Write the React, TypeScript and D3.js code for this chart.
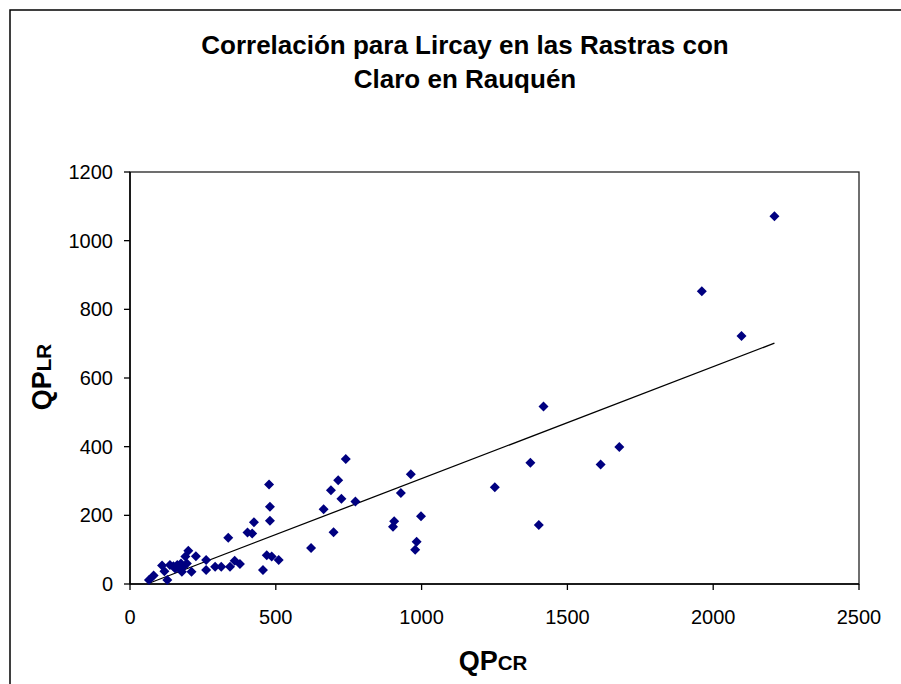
import React from "react";
import * as d3 from "d3";

const titleLines = ["Correlación para Lircay en las Rastras con", "Claro en Rauquén"];
const xTicks = [0, 500, 1000, 1500, 2000, 2500];
const yTicks = [0, 200, 400, 600, 800, 1000, 1200];

const qpCR = [
  65, 81, 110, 118, 128, 137, 149, 162, 175, 183, 178, 190, 200, 211, 226, 261, 261, 292, 313, 337,
  343, 359, 377, 403, 419, 425, 456, 469, 477, 480, 480, 486, 510, 621, 664, 689, 698, 714, 725, 740,
  773, 902, 906, 929, 963, 978, 983, 998, 1251, 1373, 1402, 1418, 1614, 1678, 1961, 2097, 2210,
  155, 170, 195,
];
const qpLR = [
  12, 25, 54, 37, 12, 55, 52, 55, 60, 50, 36, 80, 97, 36, 81, 70, 41, 50, 50, 135,
  50, 68, 58, 150, 147, 180, 41, 84, 290, 225, 184, 80, 70, 105, 218, 273, 151, 302, 248, 364,
  240, 167, 183, 265, 320, 100, 123, 197, 282, 353, 172, 517, 348, 399, 853, 722, 1071,
  45, 45, 60,
];
const trendSlope = 0.326;
const trendIntercept = -19;
const trendRange = [65, 2210];

const W = 901;
const H = 684;
const M = { left: 130, right: 859, top: 172, bottom: 584 };

export default function App() {
  const x = d3.scaleLinear().domain([0, 2500]).range([M.left, M.right]);
  const y = d3.scaleLinear().domain([0, 1200]).range([M.bottom, M.top]);
  const font = "'Liberation Sans', Arial, sans-serif";
  const pts = qpCR.map((v, i) => [v, qpLR[i]] as [number, number]);
  const line = d3
    .line<number>()
    .x((d) => x(d))
    .y((d) => y(trendSlope * d + trendIntercept));
  const r = 5;
  return (
    <svg
      width={W}
      height={H}
      style={{ position: "absolute", left: 0, top: 0, background: "#fff", display: "block" }}
      fontFamily={font}
    >
      <rect x={0} y={0} width={W} height={H} fill="#fff" />
      <path d={`M10,${H}L10,10L${W},10`} fill="none" stroke="#000" strokeWidth={1.5} />
      {titleLines.map((t, i) => (
        <text key={i} x={465} y={54 + i * 34} textAnchor="middle" fontSize={26} fontWeight="bold">
          {t}
        </text>
      ))}
      <rect
        x={M.left}
        y={M.top}
        width={M.right - M.left}
        height={M.bottom - M.top}
        fill="none"
        stroke="#222"
        strokeWidth={1.3}
      />
      {yTicks.map((t) => (
        <g key={"y" + t}>
          <line x1={M.left - 6} x2={M.left} y1={y(t)} y2={y(t)} stroke="#000" strokeWidth={1.3} />
          <text x={113} y={y(t) + 7} textAnchor="end" fontSize={20}>
            {t}
          </text>
        </g>
      ))}
      {xTicks.map((t) => (
        <g key={"x" + t}>
          <line x1={x(t)} x2={x(t)} y1={M.bottom} y2={M.bottom + 6} stroke="#000" strokeWidth={1.3} />
          <text x={x(t)} y={624} textAnchor="middle" fontSize={20}>
            {t}
          </text>
        </g>
      ))}
      <line x1={M.left} x2={M.right} y1={M.bottom} y2={M.bottom} stroke="#000" strokeWidth={1.5} />
      <line x1={M.left} x2={M.left} y1={M.top} y2={M.bottom} stroke="#000" strokeWidth={1.5} />
      <path d={line(trendRange) || ""} fill="none" stroke="#000" strokeWidth={1.3} />
      {pts.map(([a, b], i) => {
        const cx = x(a);
        const cy = y(b);
        return (
          <path
            key={i}
            d={`M${cx},${cy - r}L${cx + r},${cy}L${cx},${cy + r}L${cx - r},${cy}Z`}
            fill="#000080"
          />
        );
      })}
      <text x={493} y={670} textAnchor="middle" fontWeight="bold">
        <tspan fontSize={27}>QP</tspan>
        <tspan fontSize={20.5}>CR</tspan>
      </text>
      <text transform="translate(51,377) rotate(-90)" textAnchor="middle" fontWeight="bold">
        <tspan fontSize={27}>QP</tspan>
        <tspan fontSize={20.5}>LR</tspan>
      </text>
    </svg>
  );
}
